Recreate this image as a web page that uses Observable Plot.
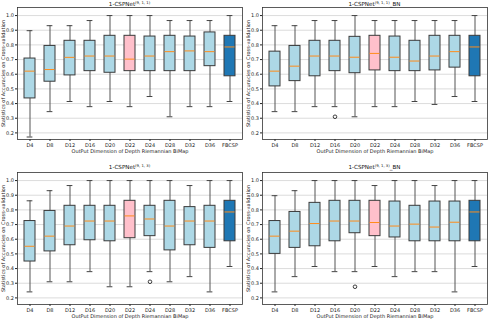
<!DOCTYPE html>
<html><head><meta charset="utf-8">
<script src="https://cdn.jsdelivr.net/npm/d3@7"></script>
<script src="https://cdn.jsdelivr.net/npm/@observablehq/plot@0.6"></script>
<style>
body{margin:0;background:#fff;font-family:"DejaVu Sans",sans-serif;}
#wrap{position:relative;width:491px;height:319px;overflow:hidden;background:#fff}
.panel{position:absolute}
.title{position:absolute;font-size:5.6px;line-height:6px;white-space:nowrap;transform:translateX(-50%);color:#111}
.title sup{font-size:3.8px;vertical-align:2.5px;line-height:0}
</style></head><body><div id="wrap"></div>
<script>
const categories = ["D4","D8","D12","D16","D20","D22","D24","D28","D32","D36","FBCSP"];
const yTicks = [0.2,0.3,0.4,0.5,0.6,0.7,0.8,0.9,1.0];
const xLabel = "OutPut Dimension of Depth Riemannian BiMap";
const yLabel = "Statistics of Accuracies on Cross-validation";

// Panel A: 1-CSPNet(9,1,1)
const lowA  = [0.172,0.345,0.414,0.379,0.414,0.379,0.448,0.310,0.379,0.379,0.414];
const q1A   = [0.435,0.549,0.592,0.621,0.610,0.621,0.621,0.621,0.621,0.655,0.586];
const medA  = [0.621,0.632,0.715,0.724,0.724,0.703,0.724,0.754,0.759,0.754,0.786];
const q3A   = [0.707,0.793,0.828,0.828,0.862,0.862,0.857,0.862,0.857,0.885,0.862];
const highA = [0.897,0.931,0.931,0.966,1.000,1.000,1.000,0.966,0.966,0.966,1.000];
const outA  = [];

// Panel B: 1-CSPNet(9,1,1)_BN
const lowB  = [0.345,0.345,0.379,0.379,0.310,0.379,0.379,0.414,0.394,0.448,0.414];
const q1B   = [0.517,0.553,0.586,0.621,0.607,0.626,0.621,0.621,0.626,0.645,0.586];
const medB  = [0.621,0.655,0.724,0.724,0.716,0.742,0.716,0.690,0.724,0.754,0.786];
const q3B   = [0.754,0.793,0.828,0.828,0.855,0.862,0.857,0.828,0.862,0.862,0.862];
const highB = [0.931,0.931,0.966,0.966,1.000,0.966,0.966,0.966,0.966,0.966,1.000];
const outB  = [{cat:"D16", v:0.310}];

// Panel C: 1-CSPNet(9,1,3)
const lowC  = [0.241,0.310,0.310,0.379,0.276,0.276,0.379,0.310,0.345,0.241,0.414];
const q1C   = [0.448,0.517,0.559,0.593,0.586,0.607,0.621,0.524,0.559,0.541,0.586];
const medC  = [0.552,0.621,0.690,0.724,0.724,0.759,0.738,0.690,0.724,0.724,0.786];
const q3C   = [0.724,0.793,0.828,0.828,0.828,0.862,0.828,0.862,0.819,0.828,0.862];
const highC = [0.862,0.931,0.966,1.000,1.000,1.000,1.000,1.000,0.966,1.000,1.000];
const outC  = [{cat:"D24", v:0.310}];

// Panel D: 1-CSPNet(9,1,3)_BN
const lowD  = [0.241,0.345,0.414,0.379,0.379,0.414,0.345,0.379,0.379,0.241,0.414];
const q1D   = [0.500,0.541,0.552,0.586,0.641,0.621,0.612,0.586,0.586,0.586,0.586];
const medD  = [0.621,0.655,0.707,0.724,0.724,0.714,0.690,0.703,0.683,0.716,0.786];
const q3D   = [0.724,0.786,0.848,0.862,0.862,0.862,0.857,0.828,0.857,0.857,0.862];
const highD = [0.897,0.931,1.000,1.000,1.000,0.966,1.000,1.000,0.966,1.000,1.000];
const outD  = [{cat:"D20", v:0.276}];

const boxColor = c => c === "D22" ? "#ffc0cb" : c === "FBCSP" ? "#1f77b4" : "#add8e6";

function panel({low,q1,med,q3,high,out,width,height,mt,mb,mr}) {
  const rows = categories.map((cat,i) => ({cat, low:low[i], q1:q1[i], med:med[i], q3:q3[i], high:high[i]}));
  const step = (width - 17 - mr) / categories.length;
  const bw = step * 0.55;
  const capInset = (bw - 6) / 2;
  return Plot.plot({
    width, height,
    marginLeft: 17, marginRight: mr, marginTop: mt, marginBottom: mb,
    style: {fontSize: "5px", fontFamily: "DejaVu Sans, sans-serif", color: "#222", background: "white"},
    x: {type: "band", domain: categories, paddingInner: 0.45, paddingOuter: 0.225},
    y: {domain: [0.155, 1.055]},
    marks: [
      Plot.gridY(yTicks, {stroke: "#b0b0b0", strokeOpacity: 0.45, strokeWidth: 1}),
      Plot.ruleX(rows, {x: "cat", y1: "low", y2: "high", stroke: "#555", strokeWidth: 1}),
      Plot.tickY(rows, {x: "cat", y: "low", stroke: "#444", strokeWidth: 1, insetLeft: capInset, insetRight: capInset}),
      Plot.tickY(rows, {x: "cat", y: "high", stroke: "#444", strokeWidth: 1, insetLeft: capInset, insetRight: capInset}),
      Plot.barY(rows, {x: "cat", y1: "q1", y2: "q3", fill: d => boxColor(d.cat), stroke: "#3a3a3a", strokeWidth: 1}),
      Plot.tickY(rows, {x: "cat", y: "med", stroke: "#ff8c1a", strokeWidth: 1, insetLeft: 0.5, insetRight: 0.5}),
      Plot.dot(out, {x: "cat", y: "v", r: 1.8, stroke: "#111", fill: "none", strokeWidth: 0.8}),
      Plot.axisX({tickSize: 2, tickPadding: 1.5, label: xLabel, labelAnchor: "center", labelArrow: "none", labelOffset: 13}),
      Plot.axisY({ticks: yTicks, tickFormat: ".1f", tickSize: 2, tickPadding: 1.5, label: yLabel, labelAnchor: "center", labelArrow: "none", labelOffset: 16.5}),
      Plot.frame({stroke: "#333", strokeWidth: 0.8})
    ]
  });
}

const wrap = document.getElementById("wrap");
const specs = [
  {d:{low:lowA,q1:q1A,med:medA,q3:q3A,high:highA,out:outA}, left:0, top:0, width:245, height:160, mt:7, mb:21, mr:3, title:["1-CSPNet","(9, 1, 1)",""], tx:129.5, ty:0.5},
  {d:{low:lowB,q1:q1B,med:medB,q3:q3B,high:highB,out:outB}, left:245, top:0, width:246, height:160, mt:7, mb:21, mr:4, title:["1-CSPNet","(9, 1, 1)","_BN"], tx:374.5, ty:0.5},
  {d:{low:lowC,q1:q1C,med:medC,q3:q3C,high:highC,out:outC}, left:0, top:160, width:245, height:159, mt:12, mb:15, mr:3, title:["1-CSPNet","(9, 1, 3)",""], tx:129.5, ty:164},
  {d:{low:lowD,q1:q1D,med:medD,q3:q3D,high:highD,out:outD}, left:245, top:160, width:246, height:159, mt:12, mb:15, mr:4, title:["1-CSPNet","(9, 1, 3)","_BN"], tx:374.5, ty:164}
];
for (const s of specs) {
  const div = document.createElement("div");
  div.className = "panel";
  div.style.left = s.left + "px";
  div.style.top = s.top + "px";
  div.appendChild(panel({...s.d, width:s.width, height:s.height, mt:s.mt, mb:s.mb, mr:s.mr}));
  wrap.appendChild(div);
  const t = document.createElement("div");
  t.className = "title";
  t.style.left = s.tx + "px";
  t.style.top = s.ty + "px";
  t.innerHTML = s.title[0] + "<sup>" + s.title[1] + "</sup>" + s.title[2];
  wrap.appendChild(t);
}
</script>
</body></html>
